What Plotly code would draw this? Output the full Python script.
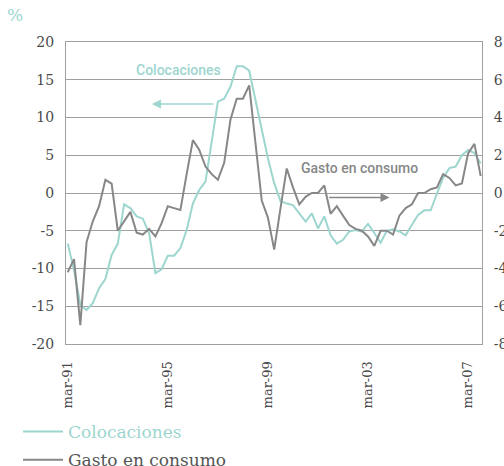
import pandas as pd
import plotly.graph_objects as go

# Quarterly series, March 1991 to September 2007
start_quarter = "1991-03-01"

# Colocaciones (% annual change, left axis)
colocaciones = [
    -6.7, -10.2, -14.8, -15.5, -14.6, -12.6, -11.4, -8.2, -6.7, -1.5,
    -2.0, -3.1, -3.4, -5.3, -10.6, -10.1, -8.3, -8.3, -7.3, -4.9,
    -1.4, 0.4, 1.5, 7.0, 12.1, 12.5, 14.1, 16.8, 16.8, 16.2,
    12.2, 8.3, 4.6, 1.3, -1.1, -1.4, -1.6, -2.7, -3.8, -2.7,
    -4.7, -3.1, -5.6, -6.7, -6.2, -5.1, -4.9, -5.1, -4.1, -5.3,
    -6.6, -5.0, -4.8, -5.1, -5.6, -4.2, -2.9, -2.3, -2.3, -0.1,
    2.0, 3.3, 3.5, 5.0, 5.7, 5.3, 3.9,
]

# Gasto en consumo (% annual change, right axis)
gasto_consumo = [
    -4.2, -3.5, -7.0, -2.6, -1.5, -0.7, 0.7, 0.5, -2.0, -1.5,
    -1.0, -2.1, -2.2, -1.9, -2.3, -1.6, -0.7, -0.8, -0.9, 1.0,
    2.8, 2.3, 1.4, 1.0, 0.7, 1.6, 3.9, 5.0, 5.0, 5.7,
    2.8, -0.4, -1.3, -3.0, -0.8, 1.3, 0.3, -0.6, -0.2, 0.0,
    0.0, 0.4, -1.1, -0.7, -1.2, -1.7, -1.9, -2.0, -2.3, -2.8,
    -2.0, -2.0, -2.2, -1.2, -0.8, -0.6, 0.0, 0.0, 0.2, 0.3,
    1.0, 0.8, 0.4, 0.5, 2.1, 2.6, 0.9,
]

# Axis ticks
left_ticks = [20, 15, 10, 5, 0, -5, -10, -15, -20]
right_ticks = [8, 6, 4, 2, 0, -2, -4, -6, -8]
x_label_dates = ["1991-03-01", "1995-03-01", "1999-03-01", "2003-03-01", "2007-03-01"]
x_label_text = ["mar-91", "mar-95", "mar-99", "mar-03", "mar-07"]
x_minor_dates = ["1993-03-01", "1995-03-01", "1997-03-01", "1999-03-01",
                 "2001-03-01", "2003-03-01", "2005-03-01", "2007-03-01"]

quarters = pd.date_range(start_quarter, periods=len(colocaciones), freq="3MS")

TEAL = "#9dd6cf"
GRAY = "#878787"
TEXT = "#4a4a4a"
GRID = "#a0a0a0"
SERIF = "DejaVu Serif, Liberation Serif, serif"
LABEL_FONT = "Roboto, Liberation Sans, Arial, sans-serif"
x_range = ["1991-02-04", "2007-09-20"]

fig = go.Figure()
fig.add_trace(go.Scatter(
    x=quarters, y=colocaciones, mode="lines",
    name=f'<span style="color:{TEAL}">Colocaciones</span>',
    legendgroup="colocaciones",
    line=dict(color=TEAL, width=2), yaxis="y",
))
fig.add_trace(go.Scatter(
    x=quarters, y=gasto_consumo, mode="lines",
    name='<span style="color:#555555">Gasto en consumo</span>',
    legendgroup="gasto",
    line=dict(color=GRAY, width=2), yaxis="y2",
))

fig.update_layout(
    width=504, height=466,
    margin=dict(l=66, r=22, t=42, b=122, pad=0, autoexpand=False),
    paper_bgcolor="white", plot_bgcolor="white",
    font=dict(family=SERIF, size=14, color=TEXT),
    showlegend=True,
    legend=dict(
        orientation="v", xref="container", yref="container",
        x=18 / 504, xanchor="left", y=1 - 414 / 466, yanchor="top",
        font=dict(family=SERIF, size=17), itemwidth=40, tracegroupgap=3,
        bgcolor="rgba(0,0,0,0)",
    ),
    xaxis=dict(
        type="date", range=x_range, automargin=False,
        tickvals=x_label_dates, ticktext=x_label_text, tickangle=-90,
        ticks="outside", ticklen=11, tickcolor="rgba(0,0,0,0)",
        tickfont=dict(family=SERIF, size=13, color=TEXT),
        showgrid=False, zeroline=False,
        showline=True, linecolor=GRID, linewidth=1, mirror=True,
    ),
    xaxis2=dict(
        type="date", range=x_range, overlaying="x", anchor="free", position=0.5,
        side="bottom", tickvals=x_minor_dates, showticklabels=False,
        automargin=False,
        ticks="outside", ticklen=5, tickwidth=1.5, tickcolor="#333333",
        showgrid=False, zeroline=False, showline=False,
    ),
    yaxis=dict(
        range=[-20, 20], tickvals=left_ticks, automargin=False,
        ticktext=[str(v) for v in left_ticks],
        ticks="outside", ticklen=8, tickcolor="rgba(0,0,0,0)",
        tickfont=dict(family=SERIF, size=14, color=TEXT),
        showgrid=True, gridcolor=GRID, gridwidth=1, zeroline=False,
        showline=True, linecolor=GRID, linewidth=1, mirror=True,
    ),
    yaxis2=dict(
        range=[-8, 8], overlaying="y", side="right", tickvals=right_ticks,
        automargin=False,
        ticktext=[str(v) for v in right_ticks],
        ticks="outside", ticklen=8, tickcolor="rgba(0,0,0,0)",
        tickfont=dict(family=SERIF, size=14, color=TEXT),
        showgrid=False, zeroline=False, showline=False,
    ),
)

# Axis unit
fig.add_annotation(
    text="%", xref="paper", yref="paper", x=-0.122, y=1.09,
    xanchor="center", yanchor="middle", showarrow=False,
    font=dict(family=SERIF, size=17, color=TEAL),
)

# Series labels with arrows pointing to their axes
fig.add_annotation(
    text="Colocaciones", x="1995-08-10", y=16.3, xref="x", yref="y",
    showarrow=False, font=dict(family=LABEL_FONT, size=14, color=TEAL, weight=500),
)
fig.add_annotation(
    x="1994-07-12", y=11.8, ax="1997-01-16", ay=11.8,
    xref="x", yref="y", axref="x", ayref="y",
    text="", showarrow=True, arrowhead=2, arrowsize=1.2, arrowwidth=1.5,
    arrowcolor=TEAL,
)
fig.add_annotation(
    text="Gasto en consumo", x="2002-10-30", y=3.3, xref="x", yref="y",
    showarrow=False, font=dict(family=LABEL_FONT, size=14, color=GRAY, weight=500),
)
fig.add_annotation(
    x="2004-01-09", y=-0.6, ax="2001-07-20", ay=-0.6,
    xref="x", yref="y", axref="x", ayref="y",
    text="", showarrow=True, arrowhead=2, arrowsize=1.2, arrowwidth=1.5,
    arrowcolor=GRAY,
)

fig.write_html("out.html")
